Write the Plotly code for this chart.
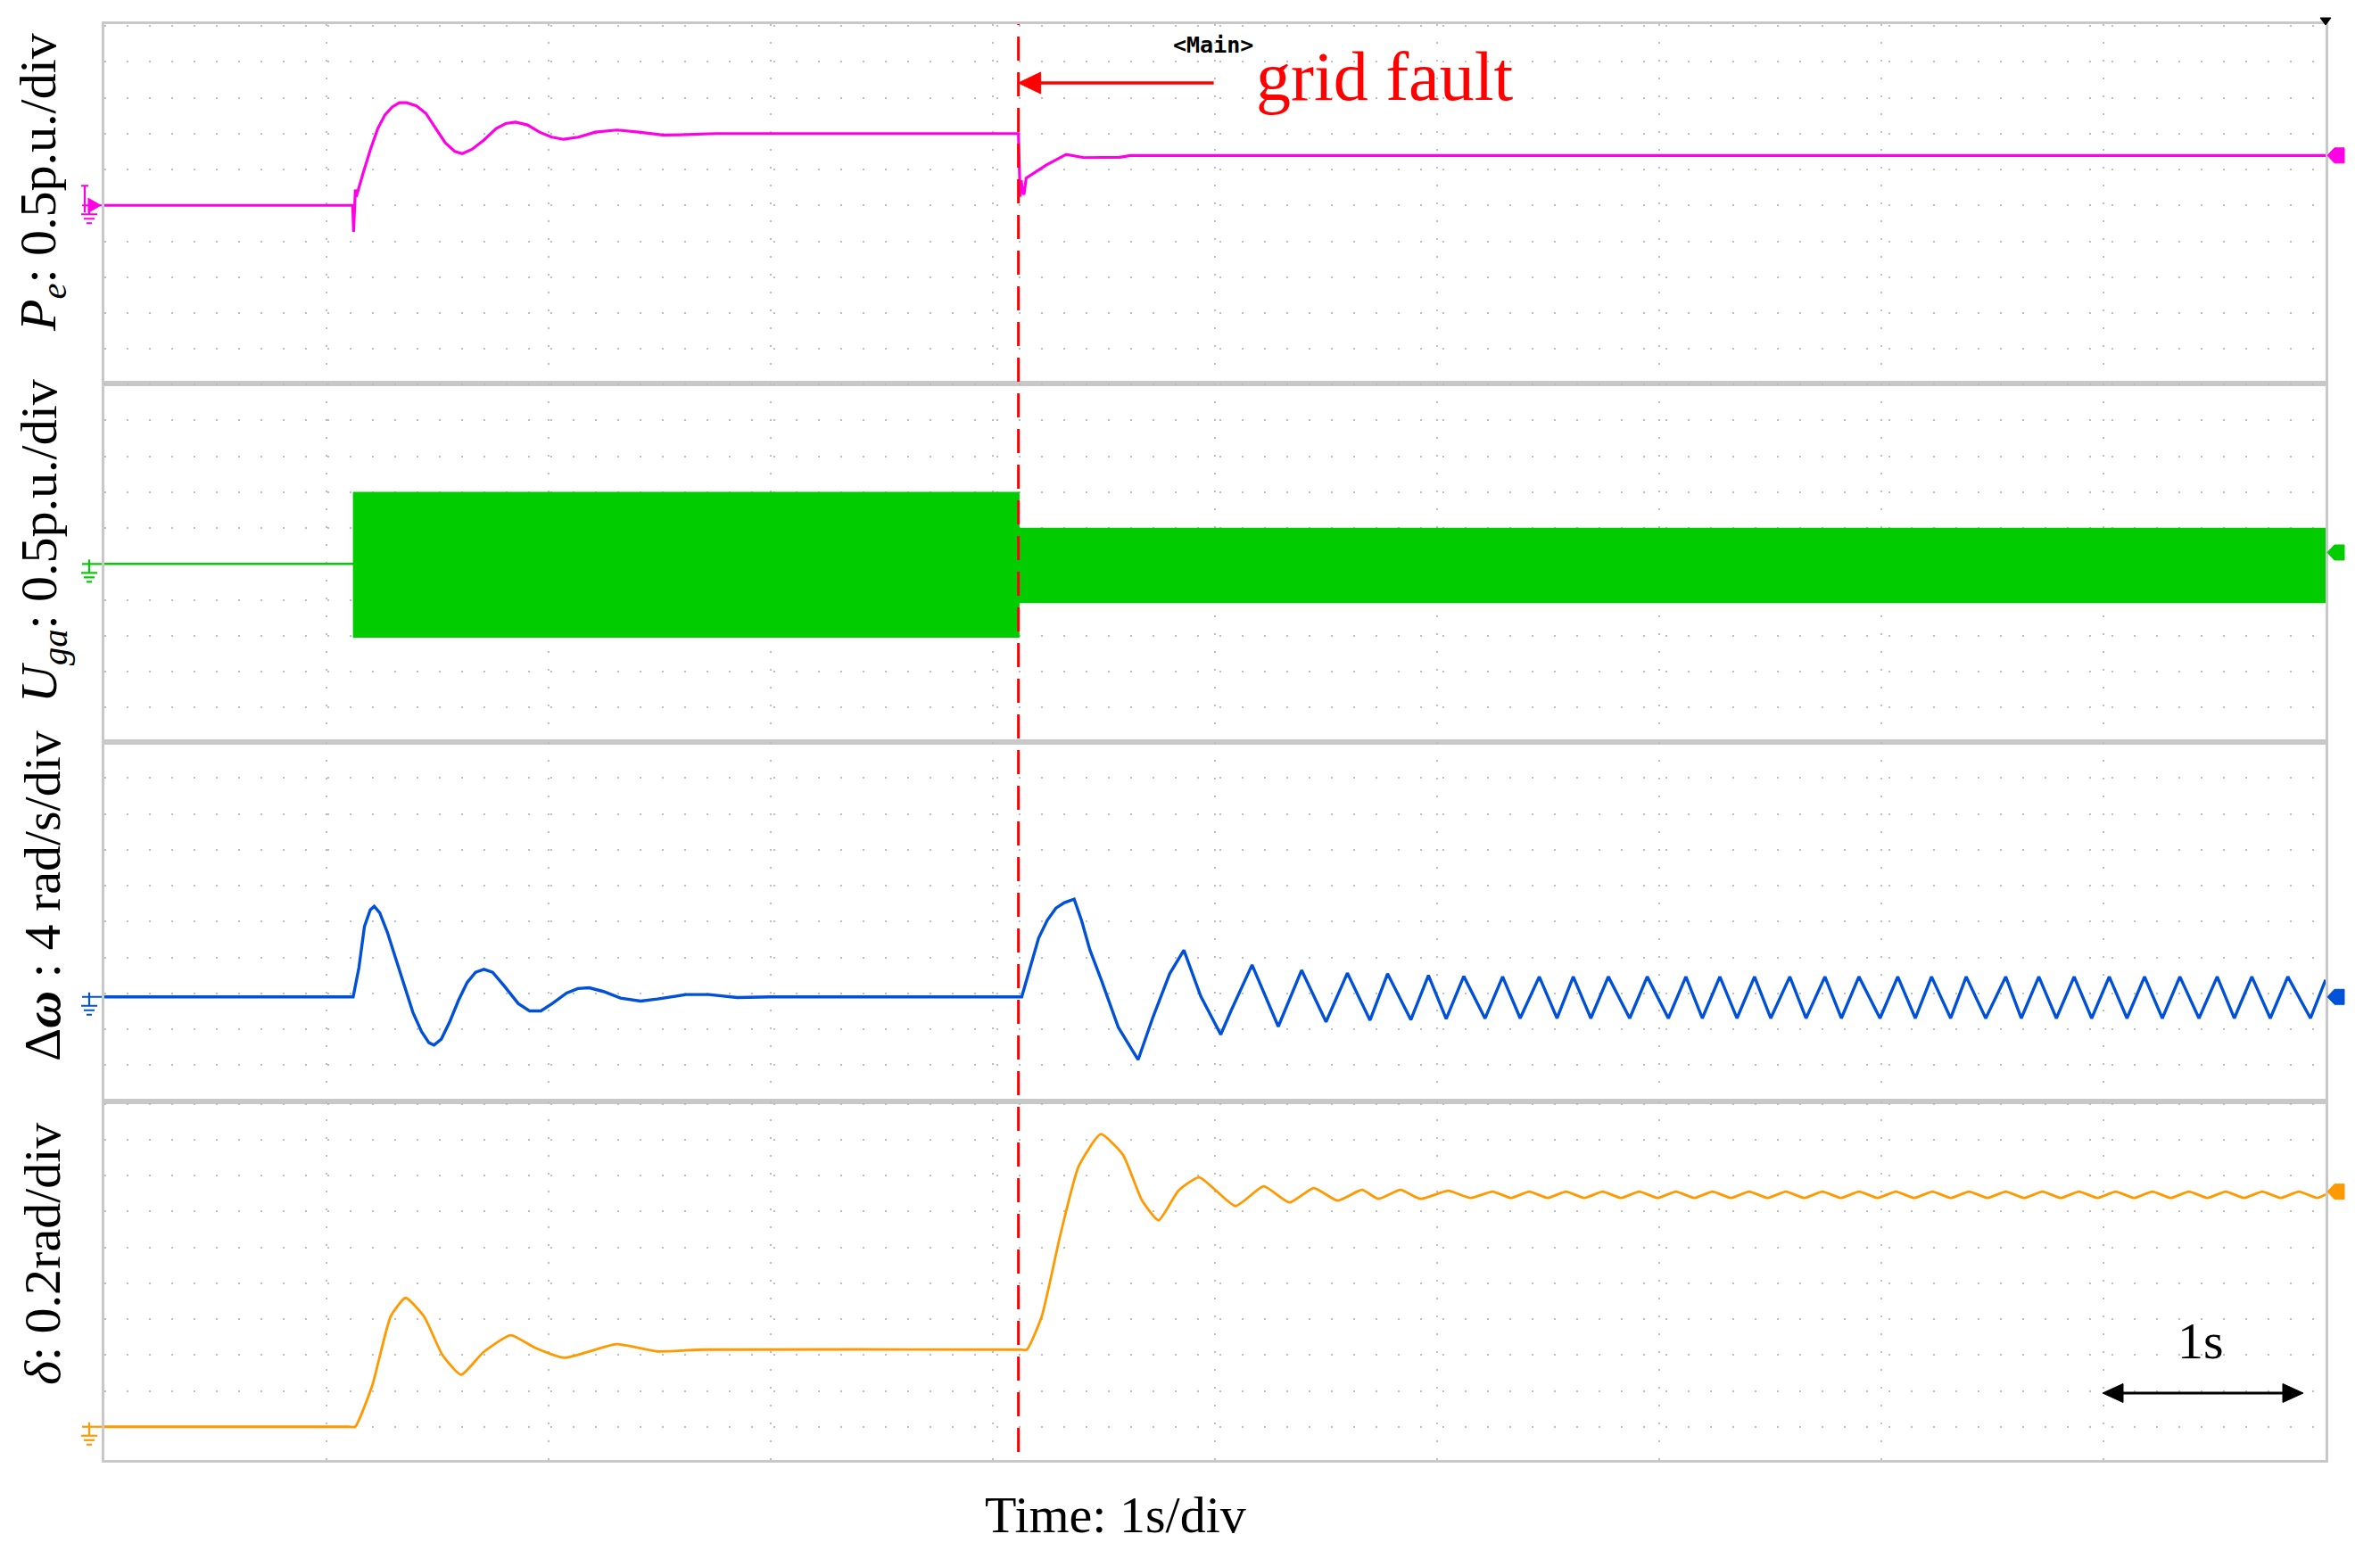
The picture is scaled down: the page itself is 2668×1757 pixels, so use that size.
import plotly.graph_objects as go
from plotly.subplots import make_subplots

# ---------------- data ----------------
t_fault = 4.115

# P_e  (p.u.)
pe_t = [0, 1.118, 1.122, 1.126, 1.13, 1.134, 1.143, 1.165, 1.198, 1.231, 1.263, 1.296, 1.328,
        1.361, 1.405, 1.448, 1.492, 1.535, 1.578, 1.611, 1.655, 1.709, 1.764, 1.807, 1.851,
        1.905, 1.959, 2.014, 2.068, 2.134, 2.21, 2.308, 2.406, 2.514, 2.622, 2.754,
        4.115, 4.119, 4.123, 4.128, 4.133, 4.14, 4.15, 4.24, 4.33, 4.41, 4.57, 4.62, 10.0]
pe_v = [0, 0, -0.37, 0.0, 0.22, 0.12, 0.224, 0.45, 0.78, 1.07, 1.26, 1.37, 1.43,
        1.43, 1.385, 1.28, 1.07, 0.87, 0.75, 0.72, 0.78, 0.91, 1.07, 1.14, 1.16,
        1.12, 1.02, 0.95, 0.92, 0.95, 1.02, 1.05, 1.02, 0.98, 0.985, 1.0,
        1.0, 0.6, 0.12, 0.35, 0.2, 0.15, 0.38, 0.56, 0.71, 0.665, 0.67, 0.695, 0.695]

# U_ga envelope (p.u.)  - the 50 Hz carrier is drawn as its filled envelope
ug_t = [0, 1.124, 1.124, 4.115, 4.115, 10.0]
ug_hi = [0, 0, 0.99, 0.99, 0.49, 0.49]
ug_lo = [0, 0, -1.01, -1.01, -0.53, -0.53]

# delta omega (rad/s)
dw_t = [0, 1.12, 1.146, 1.171, 1.197, 1.215, 1.24, 1.274, 1.312, 1.351, 1.389, 1.428, 1.461,
        1.484, 1.517, 1.556, 1.594, 1.633, 1.671, 1.709, 1.748, 1.799, 1.863, 1.914, 1.965,
        2.017, 2.081, 2.132, 2.183, 2.247, 2.324, 2.414, 2.49, 2.618, 2.721, 2.849, 3.0,
        4.13, 4.168, 4.206, 4.245, 4.284, 4.322, 4.366, 4.399, 4.437, 4.488, 4.565, 4.654,
        4.719, 4.796, 4.86, 4.936, 5.026, 5.072, 5.167, 5.285, 5.39, 5.50, 5.596, 5.698, 5.777,
        5.882, 5.961, 6.041, 6.12, 6.216, 6.295, 6.374, 6.46, 6.54, 6.613, 6.692, 6.771, 6.867,
        6.946, 7.041, 7.12, 7.194, 7.273, 7.35, 7.429, 7.502, 7.588, 7.661, 7.746, 7.82, 7.899,
        7.994, 8.074, 8.153, 8.226, 8.312, 8.382, 8.47, 8.56, 8.63, 8.709, 8.788, 8.868, 8.947,
        9.026, 9.106, 9.185, 9.265, 9.344, 9.43, 9.512, 9.589, 9.668, 9.751, 9.83, 9.932, 10.0]
dw_v = [0, 0, 3.25, 7.87, 9.7, 10.1, 9.36, 7.2, 4.24, 1.26, -1.72, -3.87, -5.1,
        -5.36, -4.7, -2.7, -0.4, 1.59, 2.75, 3.08, 2.75, 1.26, -0.73, -1.56, -1.56,
        -0.73, 0.43, 0.93, 1.02, 0.6, -0.13, -0.47, -0.23, 0.26, 0.26, -0.07, 0,
        0, 3.25, 6.55, 8.54, 9.9, 10.5, 10.9, 8.54, 5.23, 1.9, -3.4, -7.0,
        -2.38, 2.58, 5.2, 0.08, -4.2, -1.56, 3.57, -3.3, 2.98, -2.78, 2.65, -2.6, 2.58,
        -2.55, 2.4, -2.45, 2.3, -2.4, 2.25, -2.38, 2.25, -2.38, 2.25, -2.38, 2.25, -2.38,
        2.25, -2.38, 2.25, -2.38, 2.25, -2.38, 2.25, -2.38, 2.25, -2.38, 2.25, -2.38, 2.25,
        -2.38, 2.25, -2.38, 2.25, -2.38, 2.25, -2.38, 2.25, -2.38, 2.25, -2.38, 2.25, -2.38,
        2.25, -2.38, 2.25, -2.38, 2.25, -2.38, 2.25, -2.38, 2.25, -2.38, 2.25, -2.38, 1.9]

# delta (rad)
dl_t = [0, 1.10, 1.129, 1.206, 1.289, 1.356, 1.439, 1.522, 1.606, 1.706, 1.829, 1.939, 2.072,
        2.305, 2.488, 2.7, 4.12, 4.153, 4.22, 4.303, 4.386, 4.486, 4.586, 4.67, 4.746, 4.835,
        4.929, 5.092, 5.219, 5.335, 5.445, 5.552, 5.662, 5.735, 5.835, 5.925, 6.05, 6.15, 6.25,
        6.333, 6.415, 6.498, 6.58, 6.663, 6.745, 6.828, 6.91, 6.993, 7.075, 7.158, 7.24, 7.323,
        7.405, 7.488, 7.57, 7.653, 7.735, 7.818, 7.9, 7.983, 8.065, 8.148, 8.23, 8.313, 8.395,
        8.478, 8.56, 8.643, 8.725, 8.808, 8.89, 8.973, 9.055, 9.138, 9.22, 9.303, 9.385, 9.468,
        9.55, 9.633, 9.715, 9.798, 9.88, 9.963, 10.0]
dl_v = [0, 0, 0, 0.23, 0.615, 0.718, 0.615, 0.40, 0.29, 0.415, 0.51, 0.44, 0.385,
        0.46, 0.42, 0.43, 0.43, 0.43, 0.615, 1.065, 1.45, 1.63, 1.515, 1.265, 1.15, 1.315,
        1.39, 1.23, 1.34, 1.25, 1.33, 1.26, 1.32, 1.27, 1.32, 1.27, 1.315, 1.275, 1.31,
        1.275, 1.31, 1.275, 1.31, 1.275, 1.31, 1.275, 1.31, 1.275, 1.31, 1.275, 1.31, 1.275,
        1.31, 1.275, 1.31, 1.275, 1.31, 1.275, 1.31, 1.275, 1.31, 1.275, 1.31, 1.275, 1.31,
        1.275, 1.31, 1.275, 1.31, 1.275, 1.31, 1.275, 1.31, 1.275, 1.31, 1.275, 1.31, 1.275,
        1.31, 1.275, 1.31, 1.275, 1.31, 1.275, 1.295]

# per-panel vertical scale (range in physical units, one grid row = one div)
pe_range, pe_div, pe_t0 = [-2.475, 2.525], 0.5, 0
ug_range, ug_div, ug_t0 = [-2.48, 2.52], 0.5, 0
dw_range, dw_div, dw_t0 = [-11.6, 28.4], 4, 0.4
dl_range, dl_div, dl_t0 = [-0.185, 1.815], 0.2, 0

# ---------------- styling ----------------
W, H = 2668, 1757
OFF = 8  # default page body margin of the written html
X0, X1, Y0, Y1 = 117, 2607, 27, 1637  # plot area in screen pixels
ML, MT = X0 - OFF, Y0 - OFF
MR, MB = W - X1 + OFF, H - Y1 + OFF
PW, PH = X1 - X0, Y1 - Y0
MAG, GRN, BLU, ORG = "#ff00e6", "#00cc00", "#0050d8", "#ff9900"
FRAME, DOT = "#c8c8c8", "#bdbdbd"
SERIF = "Liberation Serif"
SPT = 10.0 / PW  # seconds per pixel


def px(x):
    return (x - X0) / PW


def py(y):
    return (Y1 - y) / PH


fig = make_subplots(rows=4, cols=1, shared_xaxes=True, vertical_spacing=0)

fig.add_trace(go.Scatter(x=pe_t, y=pe_v, mode="lines", line=dict(color=MAG, width=3.2)), row=1, col=1)
fig.add_trace(go.Scatter(x=ug_t + ug_t[::-1], y=ug_hi + ug_lo[::-1], mode="lines", fill="toself",
                         fillcolor=GRN, line=dict(color=GRN, width=2.5)), row=2, col=1)
fig.add_trace(go.Scatter(x=dw_t, y=dw_v, mode="lines", line=dict(color=BLU, width=3.4)), row=3, col=1)
fig.add_trace(go.Scatter(x=dl_t, y=dl_v, mode="lines",
                         line=dict(color=ORG, width=2.8, shape="spline", smoothing=0.5)), row=4, col=1)

panels = [(pe_range, pe_div, pe_t0, MAG), (ug_range, ug_div, ug_t0, GRN),
          (dw_range, dw_div, dw_t0, BLU), (dl_range, dl_div, dl_t0, ORG)]

for i, (rng, dv, t0, col) in enumerate(panels, start=1):
    fig.update_xaxes(range=[0, 10], dtick=1, tick0=0, showticklabels=False, ticks="",
                     showgrid=True, gridcolor=DOT, gridwidth=2, griddash="2px,18px",
                     showline=True, mirror=True, linecolor=FRAME, linewidth=3, zeroline=False,
                     row=i, col=1)
    fig.update_yaxes(range=rng, dtick=dv, tick0=t0, showticklabels=False, ticks="",
                     showgrid=True, gridcolor=DOT, gridwidth=2, griddash="2px,23px",
                     showline=True, mirror=True, linecolor=FRAME, linewidth=3, zeroline=False,
                     row=i, col=1)

# right-hand channel position flags and left ground symbols
final_levels = [pe_v[-1], 0.16, 0.0, 1.31]
yrefs = ["y", "y2", "y3", "y4"]
panel_px = PH / 4
for i, ((rng, dv, t0, col), lvl) in enumerate(zip(panels, final_levels)):
    upp = (rng[1] - rng[0]) / panel_px  # data units per pixel
    yr = yrefs[i]
    # flag on the right
    pts = [(2609, 0), (2617, -8.5), (2628, -8.5), (2628, 8.5), (2617, 8.5)]
    path = "M " + " L ".join(f"{px(a):.5f},{lvl - b * upp:.6f}" for a, b in pts) + " Z"
    fig.add_shape(type="path", xref="paper", yref=yr, path=path, fillcolor=col,
                  line=dict(color=col, width=1))
    # ground symbol on the left
    lines = [
        (92, 114, 0, 0),
        (100, 100, -5, 10),
        (91, 109, 10, 10),
        (94, 106, 15, 15),
        (97, 103, 20, 20),
    ]
    for xa, xb, ya, yb in lines:
        fig.add_shape(type="line", xref="paper", yref=yr, x0=px(xa), x1=px(xb),
                      y0=-ya * upp, y1=-yb * upp, line=dict(color=col, width=2.2))
    if i == 0:
        fig.add_shape(type="line", xref="paper", yref=yr, x0=px(95), x1=px(95),
                      y0=22 * upp, y1=-8 * upp, line=dict(color=col, width=2.2))
        fig.add_shape(type="line", xref="paper", yref=yr, x0=px(91), x1=px(99),
                      y0=22 * upp, y1=22 * upp, line=dict(color=col, width=2.2))
        tri = [(99, -8), (113, 0), (99, 8)]
        path = "M " + " L ".join(f"{px(a):.5f},{-b * upp:.6f}" for a, b in tri) + " Z"
        fig.add_shape(type="path", xref="paper", yref=yr, path=path, fillcolor=col,
                      line=dict(color=col, width=1))

# small black trigger mark at the top right corner
fig.add_shape(type="path", xref="paper", yref="paper",
              path=f"M {px(2601)},{py(20)} L {px(2613)},{py(20)} L {px(2607)},{py(28)} Z",
              fillcolor="black", line=dict(color="black", width=1))

# fault line
fig.add_shape(type="line", xref="x", yref="paper", x0=t_fault, x1=t_fault, y0=py(1628), y1=1,
              line=dict(color="#ff0000", width=3, dash="27px,13px"))

# "grid fault" arrow (line + head)
ya = py(93)
fig.add_shape(type="line", xref="x", yref="paper", x0=t_fault + 20 * SPT, x1=t_fault + 219 * SPT,
              y0=ya, y1=ya, line=dict(color="#ff0000", width=3.5))
fig.add_shape(type="path", xref="x", yref="paper",
              path=(f"M {t_fault:.5f},{ya:.5f} L {t_fault + 25 * SPT:.5f},{ya + 12 / PH:.5f} "
                    f"L {t_fault + 25 * SPT:.5f},{ya - 12 / PH:.5f} Z"),
              fillcolor="#ff0000", line=dict(color="#ff0000", width=1))

# 1 s scale bar
t_a, t_b, yb = px(2357) * 10, px(2582) * 10, py(1562)
fig.add_shape(type="line", xref="x4", yref="paper", x0=t_a + 15 * SPT, x1=t_b - 15 * SPT,
              y0=yb, y1=yb, line=dict(color="black", width=3))
for tip, base in ((t_a, t_a + 23 * SPT), (t_b, t_b - 23 * SPT)):
    fig.add_shape(type="path", xref="x4", yref="paper",
                  path=(f"M {tip:.5f},{yb:.5f} L {base:.5f},{yb + 10.5 / PH:.5f} "
                        f"L {base:.5f},{yb - 10.5 / PH:.5f} Z"),
                  fillcolor="black", line=dict(color="black", width=1))

ann = []
labels = [
    ("<i>P</i><sub><i>e</i></sub>: 0.5p.u./div", 205),
    ("<i>U</i><sub><i>ga</i></sub>: 0.5p.u./div", 607),
    ("Δ<b><i>ω</i></b> : 4 rad/s/div", 1005),
    ("<i>δ</i>: 0.2rad/div", 1406),
]
for txt, yc in labels:
    ann.append(dict(text=txt, xref="paper", yref="paper", x=px(47), y=py(yc), textangle=-90,
                    xanchor="center", yanchor="middle", showarrow=False,
                    font=dict(family=SERIF, size=58, color="black")))

ann.append(dict(text="Time: 1s/div", xref="paper", yref="paper", x=px(1250), y=py(1698),
                xanchor="center", yanchor="middle", showarrow=False,
                font=dict(family=SERIF, size=58, color="black")))
ann.append(dict(text="grid fault", xref="paper", yref="paper", x=px(1552), y=py(86),
                xanchor="center", yanchor="middle", showarrow=False,
                font=dict(family=SERIF, size=78, color="#ff0000")))
ann.append(dict(text="<b>&lt;Main&gt;</b>", xref="paper", yref="paper", x=px(1360), y=py(51),
                xanchor="center", yanchor="middle", showarrow=False,
                font=dict(family="DejaVu Sans Mono", size=25, color="black")))
ann.append(dict(text="1s", xref="paper", yref="paper", x=px(2467), y=py(1503),
                xanchor="center", yanchor="middle", showarrow=False,
                font=dict(family=SERIF, size=58, color="black")))

fig.update_layout(width=W, height=H, margin=dict(l=ML, r=MR, t=MT, b=MB),
                  paper_bgcolor="white", plot_bgcolor="white", showlegend=False,
                  hovermode=False, annotations=ann)

fig.write_html("out.html")
